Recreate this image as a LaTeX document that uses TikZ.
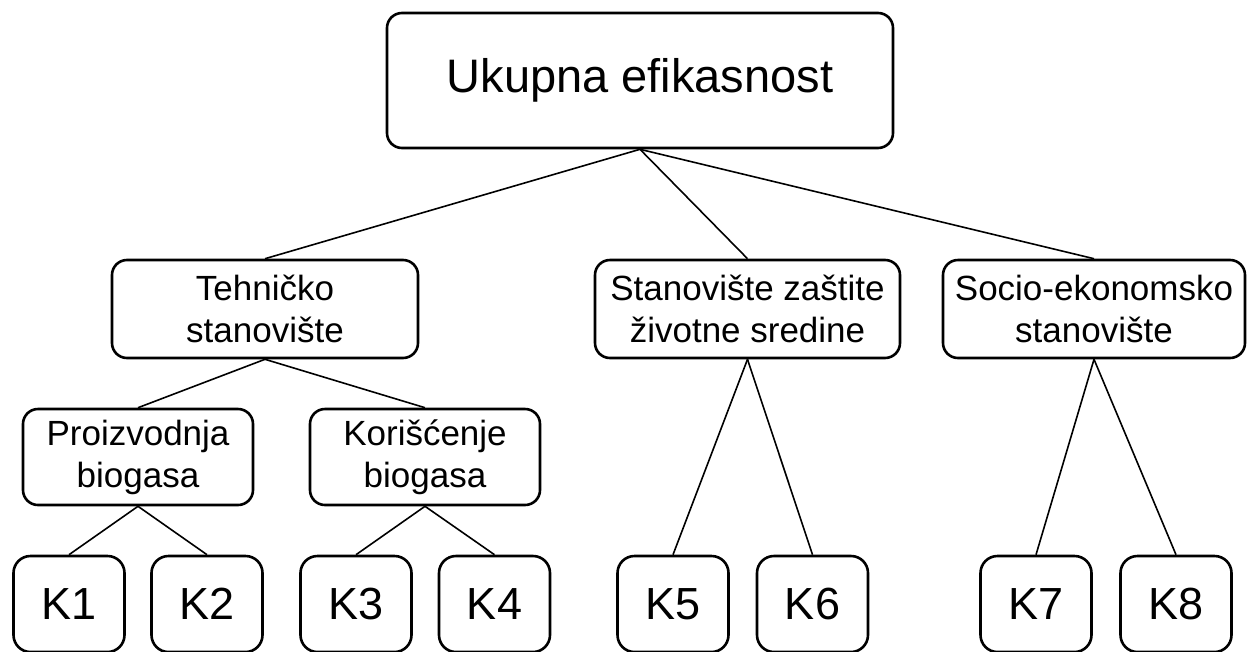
\documentclass[tikz,border=0pt]{standalone}
\usepackage{fontspec}
\setmainfont{Liberation Sans}
\begin{document}
\begin{tikzpicture}[x=1pt,y=-1pt,
  box/.style={draw=black, line width=2.6pt, rounded corners=15pt, fill=white,
              inner sep=0pt, align=center},
  topbox/.style={box, minimum width=506pt, minimum height=135pt,
                 font=\fontsize{47}{56}\selectfont},
  midbox/.style={box, minimum width=304pt, minimum height=98pt,
                 font=\fontsize{35}{42}\selectfont},
  subbox/.style={box, minimum width=230pt, minimum height=96pt,
                 font=\fontsize{35}{42}\selectfont},
  kbox/.style={box, rounded corners=17pt, minimum width=111pt, minimum height=96pt,
               font=\fontsize{45}{54}\selectfont},
  link/.style={draw=black, line width=1.6pt}]
\useasboundingbox (0,0) rectangle (1247,651);

% root
\node[topbox] (root) at (640,80.5) {Ukupna efikasnost};

% second level
\node[midbox, minimum width=306pt] (teh) at (265,309) {Tehničko\\stanovište};
\node[midbox, minimum width=305pt] (env) at (747.5,309) {Stanovište zaštite\\životne sredine};
\node[midbox, minimum width=302pt] (soc) at (1094,309) {Socio-ekonomsko\\stanovište};

% third level (technical branch)
\node[subbox] (proiz) at (138,457) {Proizvodnja\\biogasa};
\node[subbox] (koris) at (425,457) {Korišćenje\\biogasa};

% criteria
\node[kbox] (k1) at (69,604)   {K1};
\node[kbox] (k2) at (207,604)  {K2};
\node[kbox] (k3) at (356,604)  {K3};
\node[kbox] (k4) at (494.5,604) {K4};
\node[kbox] (k5) at (673,604)  {K5};
\node[kbox] (k6) at (812.5,604) {K6};
\node[kbox] (k7) at (1036,604) {K7};
\node[kbox] (k8) at (1176,604) {K8};

% connectors
\begin{scope}[on background layer/.try]
\draw[link] (root.south) -- (teh.north);
\draw[link] (root.south) -- (env.north);
\draw[link] (root.south) -- (soc.north);
\draw[link] (teh.south) -- (proiz.north);
\draw[link] (teh.south) -- (koris.north);
\draw[link] (proiz.south) -- (k1.north);
\draw[link] (proiz.south) -- (k2.north);
\draw[link] (koris.south) -- (k3.north);
\draw[link] (koris.south) -- (k4.north);
\draw[link] (env.south) -- (k5.north);
\draw[link] (env.south) -- (k6.north);
\draw[link] (soc.south) -- (k7.north);
\draw[link] (soc.south) -- (k8.north);
\end{scope}
\end{tikzpicture}
\end{document}
